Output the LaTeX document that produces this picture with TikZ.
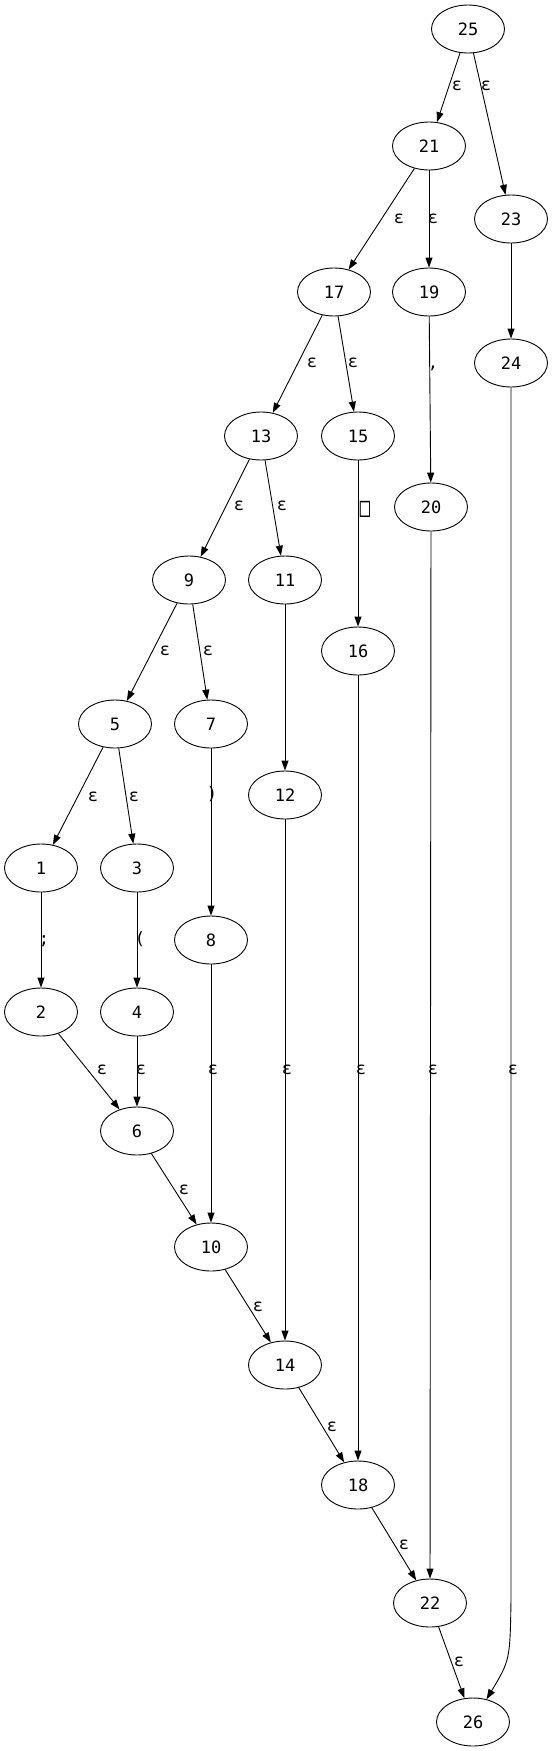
\documentclass[tikz,border=0pt]{standalone}
\usepackage{fontspec}
\setmonofont{DejaVu Sans Mono}
\usetikzlibrary{shapes.geometric,arrows.meta}

\begin{document}
\begin{tikzpicture}[x=1pt,y=-1pt,
	font=\ttfamily\fontsize{17}{20}\selectfont,
	>={Triangle[length=10pt,width=7pt]},
	state/.style={draw,ellipse,line width=0.9pt,minimum width=73pt,minimum height=48pt,inner sep=0pt},
	lbl/.style={inner sep=0pt,text height=13pt,text depth=4pt},
	edge/.style={->,line width=0.9pt}]

\useasboundingbox (0,0) rectangle (553,1751);

%----------------------------
% States
%----------------------------
\node[state] (n25) at (468,29) {25};
\node[state] (n21) at (429,146) {21};
\node[state] (n23) at (511,219) {23};
\node[state] (n17) at (334,292) {17};
\node[state] (n19) at (429,292) {19};
\node[state] (n24) at (511,363) {24};
\node[state] (n13) at (261,436) {13};
\node[state] (n15) at (358,436) {15};
\node[state] (n20) at (431,507) {20};
\node[state] (n9) at (189,580) {9};
\node[state] (n11) at (285,580) {11};
\node[state] (n16) at (358,651) {16};
\node[state] (n5) at (115,724) {5};
\node[state] (n7) at (211,724) {7};
\node[state] (n12) at (285,795) {12};
\node[state] (n1) at (41,868) {1};
\node[state] (n3) at (137,868) {3};
\node[state] (n8) at (211,940) {8};
\node[state] (n2) at (41,1012) {2};
\node[state] (n4) at (137,1012) {4};
\node[state] (n6) at (137,1131) {6};
\node[state] (n10) at (211,1247) {10};
\node[state] (n14) at (285,1365) {14};
\node[state] (n18) at (358,1485) {18};
\node[state] (n22) at (430,1603) {22};
\node[state] (n26) at (473,1722) {26};

%----------------------------
% Transitions
%----------------------------
\draw[edge] (n25) -- (n21);
\draw[edge] (n25) -- (n23);
\draw[edge] (n21) -- (n17);
\draw[edge] (n21) -- (n19);
\draw[edge] (n23) -- (n24);
\draw[edge] (n17) -- (n13);
\draw[edge] (n17) -- (n15);
\draw[edge] (n19) -- (n20);
\draw[edge] (n13) -- (n9);
\draw[edge] (n13) -- (n11);
\draw[edge] (n15) -- (n16);
\draw[edge] (n20) -- (n22);
\draw[edge] (n9) -- (n5);
\draw[edge] (n9) -- (n7);
\draw[edge] (n11) -- (n12);
\draw[edge] (n16) -- (n18);
\draw[edge] (n5) -- (n1);
\draw[edge] (n5) -- (n3);
\draw[edge] (n7) -- (n8);
\draw[edge] (n12) -- (n14);
\draw[edge] (n1) -- (n2);
\draw[edge] (n3) -- (n4);
\draw[edge] (n8) -- (n10);
\draw[edge] (n2) -- (n6);
\draw[edge] (n4) -- (n6);
\draw[edge] (n6) -- (n10);
\draw[edge] (n10) -- (n14);
\draw[edge] (n14) -- (n18);
\draw[edge] (n18) -- (n22);
\draw[edge] (n22) -- (n26);

% long bypass 24 -> 26
\coordinate (b24) at (511,1600);
\draw[edge] (n24) -- (b24) .. controls (510,1660) .. (n26);

%----------------------------
% Labels
%----------------------------
\node[lbl] (e25a) at (457,86) {ε};
\node[lbl] (e25b) at (486,86) {ε};
\node[lbl] (e21a) at (399,219) {ε};
\node[lbl] (e21b) at (433,219) {ε};
\node[lbl] (e17a) at (312,363) {ε};
\node[lbl] (e17b) at (353,363) {ε};
\node[lbl] (e19) at (433,364) {,};
\node[lbl] (e13a) at (239,506) {ε};
\node[lbl] (e13b) at (282,506) {ε};
\node[lbl] (e15) at (365,512) {\scalebox{1}[1.6]{□}};
\node[lbl] (e9a) at (165,651) {ε};
\node[lbl] (e9b) at (208,651) {ε};
\node[lbl] (e5a) at (93,797) {ε};
\node[lbl] (e5b) at (134,797) {ε};
\node[lbl] (e7) at (212,795) {)};
\node[lbl] (e1) at (44,940) {;};
\node[lbl] (e3) at (140,940) {(};
\node[lbl] (e2) at (102,1070) {ε};
\node[lbl] (e4) at (141,1070) {ε};
\node[lbl] (e8) at (213,1070) {ε};
\node[lbl] (e12) at (287,1070) {ε};
\node[lbl] (e16) at (361,1070) {ε};
\node[lbl] (e20) at (433,1070) {ε};
\node[lbl] (e24) at (513,1070) {ε};
\node[lbl] (e6) at (184,1190) {ε};
\node[lbl] (e10) at (258,1307) {ε};
\node[lbl] (e14) at (332,1427) {ε};
\node[lbl] (e18) at (404,1545) {ε};
\node[lbl] (e22) at (459,1662) {ε};
\end{tikzpicture}
\end{document}
